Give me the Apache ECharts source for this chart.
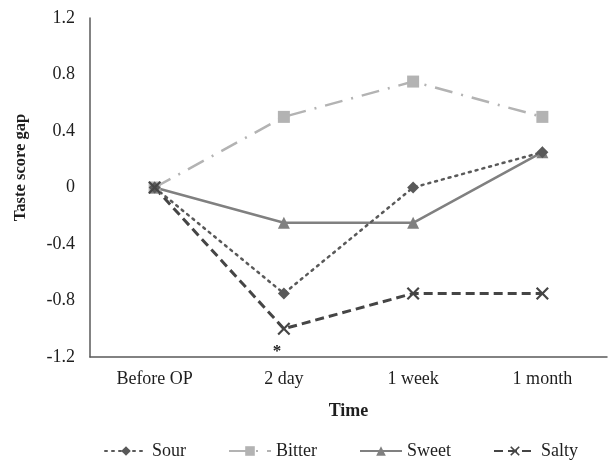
<!DOCTYPE html>
<html><head><meta charset="utf-8">
<script src="https://cdn.jsdelivr.net/npm/echarts@6/dist/echarts.min.js"></script>
<style>html,body{margin:0;padding:0;background:#fff}#c{width:608px;height:461px}</style>
</head><body><div id="c"></div>
<script>
var categories = ['Before OP', '2 day', '1 week', '1 month'];
var sour = [0, -0.75, 0, 0.25];
var bitter = [0, 0.5, 0.75, 0.5];
var sweet = [0, -0.25, -0.25, 0.25];
var salty = [0, -1, -0.75, -0.75];
var yTicks = { min: -1.2, max: 1.2, interval: 0.4 };
var significance = { series: 'Salty', index: 1, mark: '*' };

var FONT = 'Liberation Serif';
var xPath = 'path://M0,1.2L1.2,0L5,3.8L8.8,0L10,1.2L6.2,5L10,8.8L8.8,10L5,6.2L1.2,10L0,8.8L3.8,5Z';

function saltyData() {
  return salty.map(function (v, i) {
    if (i === significance.index) {
      return { value: v, label: { show: true, formatter: significance.mark, position: 'bottom', distance: 8, offset: [-7, 0], color: '#222', fontSize: 17, fontWeight: 'bold', fontFamily: FONT } };
    }
    return v;
  });
}

var chart = echarts.init(document.getElementById('c'));
chart.setOption({
  animation: false,
  backgroundColor: '#fff',
  grid: { left: 90, right: 1, top: 18, bottom: 104 },
  legend: {
    left: 99, top: 437, itemWidth: 42, itemHeight: 12, itemGap: 42,
    textStyle: { fontFamily: FONT, fontSize: 18, color: '#1e1e1e' },
    data: ['Sour', 'Bitter', 'Sweet', 'Salty']
  },
  xAxis: [{
    type: 'category', data: categories, boundaryGap: true,
    axisLine: { show: false }, axisTick: { show: false },
    axisLabel: { fontFamily: FONT, fontSize: 18, color: '#1e1e1e', margin: 13 },
    name: 'Time', nameLocation: 'middle', nameGap: 45,
    nameTextStyle: { fontFamily: FONT, fontSize: 18, fontWeight: 'bold', color: '#1e1e1e' }
  }, {
    type: 'category', data: categories, boundaryGap: true, position: 'bottom',
    axisLine: { show: true, onZero: true, lineStyle: { color: '#5a5a5a', width: 1.5 } },
    axisTick: { show: false }, axisLabel: { show: false }
  }],
  yAxis: {
    type: 'value', min: yTicks.min, max: yTicks.max, interval: yTicks.interval,
    splitLine: { show: false },
    axisLine: { show: true, lineStyle: { color: '#5a5a5a', width: 1.5 } },
    axisTick: { show: false },
    axisLabel: { fontFamily: FONT, fontSize: 18, color: '#1e1e1e', margin: 15,
      formatter: function (v) { return String(+v.toFixed(1)); } },
    name: 'Taste score gap', nameLocation: 'middle', nameGap: 61,
    nameTextStyle: { fontFamily: FONT, fontSize: 16.5, fontWeight: 'bold', color: '#1e1e1e', padding: [0, 0, 0, 40] }
  },
  series: [
    { name: 'Bitter', type: 'line', data: bitter, symbol: 'rect', symbolSize: 12,
      itemStyle: { color: '#b3b3b3' },
      lineStyle: { color: '#b3b3b3', width: 2.5, type: [18, 9, 2, 9] } },
    { name: 'Sweet', type: 'line', data: sweet, symbol: 'triangle', symbolSize: 12,
      itemStyle: { color: '#808080' },
      lineStyle: { color: '#808080', width: 2.5, type: 'solid' } },
    { name: 'Sour', type: 'line', data: sour, symbol: 'diamond', symbolSize: 12,
      itemStyle: { color: '#595959' },
      lineStyle: { color: '#595959', width: 2.5, type: [2, 5], cap: 'round' } },
    { name: 'Salty', type: 'line', data: saltyData(), symbol: xPath, symbolSize: 13,
      itemStyle: { color: '#454545' },
      lineStyle: { color: '#454545', width: 3, type: [9, 5] } }
  ]
});
</script></body></html>
